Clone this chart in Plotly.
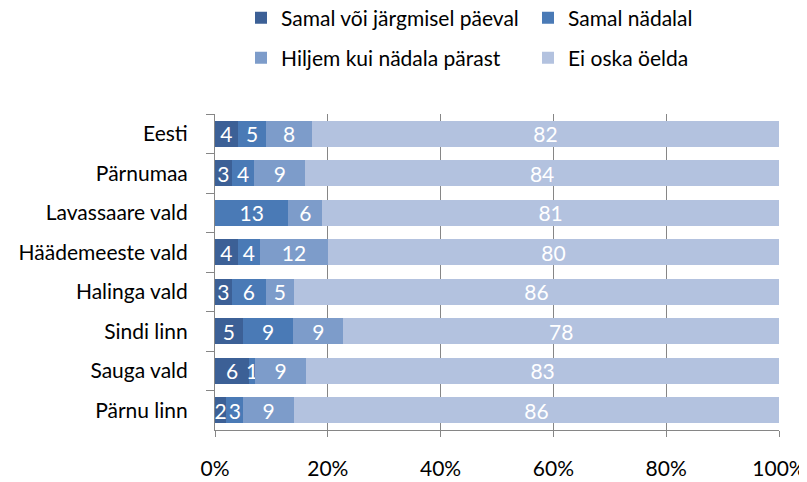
import plotly.graph_objects as go

categories = ['Eesti', 'Pärnumaa', 'Lavassaare vald', 'Häädemeeste vald',
              'Halinga vald', 'Sindi linn', 'Sauga vald', 'Pärnu linn']
series_names = ['Samal või järgmisel päeval', 'Samal nädalal',
                'Hiljem kui nädala pärast', 'Ei oska öelda']
same_or_next_day = [4, 3, 0, 4, 3, 5, 6, 2]
same_week = [5, 4, 13, 4, 6, 9, 1, 3]
later_than_week = [8, 9, 6, 12, 5, 9, 9, 9]
cannot_say = [82, 84, 81, 80, 86, 78, 83, 86]
x_ticks = [0, 20, 40, 60, 80, 100]
x_tick_labels = ['0%', '20%', '40%', '60%', '80%', '100%']

colors = ['#3C6096', '#4A7AB6', '#7D9CCA', '#B3C2DF']
series = [same_or_next_day, same_week, later_than_week, cannot_say]
legends = ['legend', 'legend2', 'legend3', 'legend4']

font = 'Lato'
fs = 21

# page body has an 8px margin, so the figure is 8px smaller
W, H = 799, 474

fig = go.Figure()
for name, vals, col, lg in zip(series_names, series, colors, legends):
    fig.add_trace(go.Bar(
        name=name, y=categories, x=vals, orientation='h',
        marker=dict(color=col, line=dict(width=0)),
        text=[str(v) if v else '' for v in vals],
        textposition='inside', insidetextanchor='middle', textangle=0,
        insidetextfont=dict(color='white', size=fs, family=font),
        legend=lg, showlegend=True,
    ))


def leg(x, y):
    return dict(xref='container', yref='container', x=x / W, y=1 - y / H,
                xanchor='left', yanchor='middle', font=dict(size=fs),
                bgcolor='rgba(0,0,0,0)', visible=True)


fig.update_layout(
    barmode='stack', barnorm='percent', bargap=0.34,
    width=W, height=H, showlegend=True,
    margin=dict(l=207, r=28, t=106, b=52, autoexpand=False),
    plot_bgcolor='white', paper_bgcolor='white',
    font=dict(family=font, size=fs, color='black'),
    uniformtext=dict(minsize=fs, mode='show'),
    legend=leg(233, 10),
    legend2=leg(520, 10),
    legend3=leg(233, 50),
    legend4=leg(520, 50),
    xaxis=dict(range=[0, 100], tickvals=x_ticks, ticktext=x_tick_labels,
               showgrid=True, gridcolor='#868686', gridwidth=1,
               showline=True, linecolor='#868686', ticks='outside',
               ticklen=6, tickcolor='#868686', zeroline=False,
               ticklabelstandoff=14),
    yaxis=dict(autorange='reversed', showline=True, linecolor='#868686',
               ticks='outside', ticklen=8, tickcolor='#868686',
               tickson='boundaries', ticklabelstandoff=22),
)

fig.write_html('out.html')
